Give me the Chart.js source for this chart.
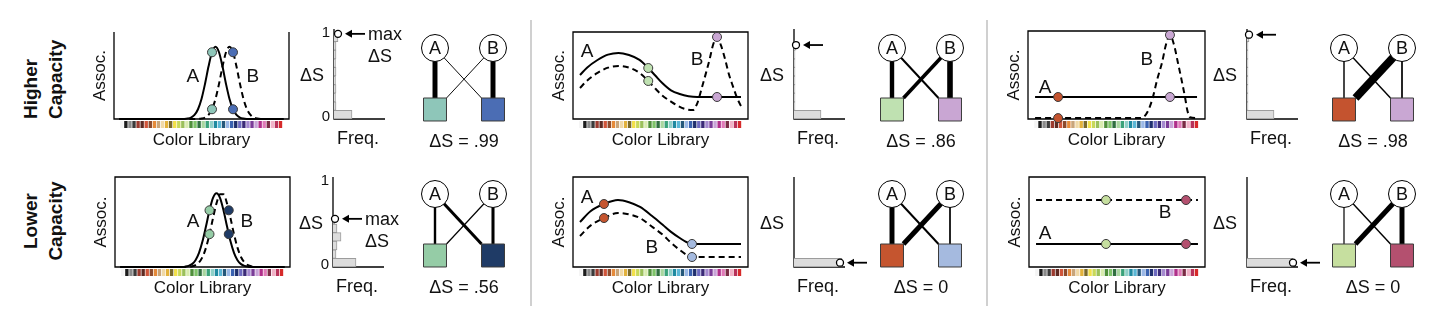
<!DOCTYPE html>
<html>
<head>
<meta charset="utf-8">
<title>Color library capacity</title>
<script src="https://cdn.jsdelivr.net/npm/chart.js@4.4.1/dist/chart.umd.min.js"></script>
<style>
  body { margin: 0; background: #fff; }
  #fig { position: relative; width: 1440px; height: 320px; overflow: hidden; background: #fff; }
  #fig canvas { position: absolute; }
  .row-label {
    position: absolute; width: 110px; height: 52px;
    font: bold 19px "Liberation Sans", Arial, sans-serif; line-height: 25px; color: #111;
    transform: rotate(-90deg);
  }
  .sep { position: absolute; top: 20px; width: 2px; height: 286px; background: #d0d0d0; }
</style>
</head>
<body>
<div id="fig">
  <div class="row-label" style="left:-11px; top:38px; text-align:left;">Higher<br>Capacity</div>
  <div class="row-label" style="left:-11px; top:195px; text-align:center;">Lower<br>Capacity</div>
  <div class="sep" style="left:530px;"></div>
  <div class="sep" style="left:986px;"></div>
</div>
<script>
const FONT = '"Liberation Sans", Arial, sans-serif';
const INK = '#111';

// colour library swatches shown under every x axis
const libraryColors = ['#f4f4f4', '#1c1c1c', '#8a8a8a', '#3b3b3b', '#9b3a2e', '#5e2a22', '#d0553a', '#8c4a2c',
  '#e58a3a', '#c9a57a', '#f0d9a8', '#e3b23c', '#7a6a2a', '#f2e04a', '#c8d85a', '#9bc05a', '#d9ecb0', '#4f8f3a',
  '#7fc46a', '#2f6f3f', '#a9d6a0', '#3aa27a', '#8fd0c8', '#1f8aa0', '#5bb7d6', '#24577a', '#9ab8e6', '#3a62b0',
  '#1f2f6e', '#6d6ac0', '#3b2a78', '#a58ad0', '#7a3c98', '#c9a3d8', '#b02f8a', '#e07ab8', '#7a2a44', '#f1b3c8',
  '#b8325a', '#d62a2a'];

// ΔS histogram bins
const deltaBins = ['0', '.1', '.2', '.3', '.4', '.5', '.6', '.7', '.8', '.9'];
const scores = ['.99', '.56', '.86', '0', '.98', '0'];

// panel 1: two neighbouring hues
const gaussX = [3, 36, 38, 40, 42, 44, 46, 48, 50, 52, 54, 56, 58, 60, 62, 64, 66, 68, 70, 72, 74, 76, 78, 80, 82, 84, 86, 88, 90, 97];
const p1HiA = [0, 0, 0, .001, .005, .016, .047, .112, .23, .403, .603, .767, .83, .767, .603, .403, .23, .112, .047, .016, .005, .001, 0, 0, 0, 0, 0, 0, 0, 0];
const p1HiB = [0, 0, 0, 0, 0, 0, 0, .001, .005, .016, .047, .112, .23, .403, .603, .767, .83, .767, .603, .403, .23, .112, .047, .016, .005, .001, 0, 0, 0, 0];
const p1HiDots = [56, 68];
const p1HiDotsOnA = [.767, .112];
const p1HiDotsOnB = [.112, .767];
const p1LoA = [0, 0, .001, .004, .012, .032, .076, .157, .285, .452, .63, .768, .82, .768, .63, .452, .285, .157, .076, .032, .012, .004, .001, 0, 0, 0, 0, 0, 0, 0];
const p1LoB = [0, 0, 0, .001, .002, .007, .02, .05, .111, .215, .365, .543, .707, .807, .807, .707, .543, .365, .215, .111, .05, .02, .007, .002, .001, 0, 0, 0, 0, 0];
const p1LoDots = [54, 65];
const p1LoDotsOnA = [.63, .365];
const p1LoDotsOnB = [.365, .63];

// panel 2: broad preference vs a peaked one
const p2HiAX = [4, 8, 14, 20, 26, 32, 38, 43, 47, 51, 56, 61, 66, 71, 96];
const p2HiA = [.506, .59, .678, .74, .76, .735, .68, .586, .5, .414, .33, .287, .262, .253, .253];
const p2HiBX = [4, 8, 14, 20, 26, 32, 38, 43, 47, 51, 56, 60, 64, 68.5, 71, 73.5, 76, 78, 80, 82.3, 84.5, 87, 89, 91.5, 94, 96.5];
const p2HiB = [.356, .44, .53, .59, .61, .59, .53, .437, .35, .27, .2, .15, .115, .103, .18, .35, .53, .68, .85, .943, .85, .68, .52, .37, .23, .13];
const p2HiDots = [43, 82.3];
const p2HiDotsOnA = [.586, .253];
const p2HiDotsOnB = [.437, .943];
const p2LoX = [4, 10, 17.7, 25.7, 32, 38.3, 45, 51.4, 56, 61, 65, 68, 96];
const p2LoA = [.5, .62, .7, .744, .72, .667, .57, .467, .39, .322, .275, .256, .256];
const p2LoB = [.344, .46, .544, .6, .585, .544, .45, .356, .27, .189, .135, .111, .111];
const p2LoDots = [17.7, 68];
const p2LoDotsOnA = [.7, .256];
const p2LoDotsOnB = [.544, .111];

// panel 3: flat preferences
const p3HiAX = [4, 95.5];
const p3HiA = [.25, .25];
const p3HiBX = [4, 62, 65, 68, 70.6, 73, 75.7, 78, 80.2, 82.4, 84.7, 86.7, 88.7, 90, 91.5, 95.5];
const p3HiB = [.01, .01, .02, .1, .25, .45, .64, .85, .955, .85, .64, .45, .25, .1, .02, .01];
const p3HiDots = [17, 80.2];
const p3HiDotsOnA = [.25, .25];
const p3HiDotsOnB = [.01, .955];
const p3LoX = [4, 96];
const p3LoA = [.256, .256];
const p3LoB = [.744, .744];
const p3LoDots = [43.75, 89.2];
const p3LoDotsOnA = [.256, .256];
const p3LoDotsOnB = [.744, .744];

// ΔS frequencies per bin, and the max ΔS marker [freq, ΔS]
const p1HiFreq = [18, 2, 1.5, 2, 1.5, 2, 1.5, 2, 2, 4];
const p1HiMax = [4, .99];
const p1LoFreq = [23, 3, 4, 8, 4, 2, 0, 0, 0, 0];
const p1LoMax = [2, .56];
const p2HiFreq = [27, 1, 1, 1, 1, 1, 1, 1, 2, 0];
const p2HiMax = [2, .86];
const p2LoFreq = [48, 0, 0, 0, 0, 0, 0, 0, 0, 0];
const p2LoMax = [46, .05];
const p3HiFreq = [27, 1, 1, 1, 1, 1, 1, 1, 1, 2];
const p3HiMax = [2, .98];
const p3LoFreq = [46, 0, 0, 0, 0, 0, 0, 0, 0, 0];
const p3LoMax = [46, .05];

// association weights A-a, A-b, B-a, B-b and the two assigned colours
const p1HiEdges = [.62, .12, .12, .62];
const p1LoEdges = [.3, .38, .15, .38];
const p2HiEdges = [.55, .25, .45, .7];
const p2LoEdges = [.62, .25, .62, .12];
const p3HiEdges = [.18, .18, 1, .12];
const p3LoEdges = [.15, .18, .62, .62];
const p1HiColors = ['#8ec6b9', '#4b6db4'];
const p1LoColors = ['#95cca6', '#1f3b66'];
const p2HiColors = ['#bfe1b1', '#c9a6d3'];
const p2LoColors = ['#c5552f', '#a5badf'];
const p3HiColors = ['#c4532f', '#c9a7d3'];
const p3LoColors = ['#c6df9f', '#b4506f'];

function addCanvas(left, top, w, h) {
  const c = document.createElement('canvas');
  c.width = w;
  c.height = h;
  c.style.left = left + 'px';
  c.style.top = top + 'px';
  document.getElementById('fig').appendChild(c);
  return c;
}

function pairs(xs, ys) {
  return xs.map((x, i) => ({ x: x, y: ys[i] }));
}

function label(ctx, str, x, y, size, align) {
  ctx.font = size + 'px ' + FONT;
  ctx.fillStyle = INK;
  ctx.textAlign = align || 'center';
  ctx.textBaseline = 'middle';
  ctx.fillText(str, x, y);
}

function baseOptions(pad) {
  return {
    responsive: false,
    animation: false,
    events: [],
    layout: { padding: pad, autoPadding: false },
    plugins: { legend: { display: false }, tooltip: { enabled: false } },
  };
}

function curveChart(box, a, b, dots, colors, names, openTop) {
  const pad = { left: 34, top: 8, right: 8, bottom: 34 };
  const canvas = addCanvas(box[0] - pad.left, box[1] - pad.top,
    box[2] + pad.left + pad.right, box[3] + pad.top + pad.bottom);
  const dotData = [
    { x: dots[0][0], y: dots[1][0] }, { x: dots[0][0], y: dots[2][0] },
    { x: dots[0][1], y: dots[1][1] }, { x: dots[0][1], y: dots[2][1] },
  ];
  const opts = baseOptions(pad);
  opts.scales = {
    x: { type: 'linear', min: 0, max: 100, display: false },
    y: { type: 'linear', min: 0, max: 1, display: false },
  };
  new Chart(canvas, {
    type: 'line',
    data: {
      datasets: [
        { data: dotData, showLine: false, pointRadius: 4.5, pointBorderWidth: 1, pointBorderColor: '#3a3a3a',
          pointBackgroundColor: [colors[0], colors[0], colors[1], colors[1]], clip: false, order: 0 },
        { data: pairs(a[0], a[1]), borderColor: '#000', borderWidth: 2, pointRadius: 0,
          cubicInterpolationMode: 'monotone', clip: false, order: 1 },
        { data: pairs(b[0], b[1]), borderColor: '#000', borderWidth: 2, borderDash: [6, 4], pointRadius: 0,
          cubicInterpolationMode: 'monotone', clip: false, order: 2 },
      ],
    },
    options: opts,
    plugins: [{
      id: 'frame',
      beforeDatasetsDraw(chart) {
        const { ctx, chartArea: r, scales } = chart;
        ctx.save();
        // colour library strip
        const step = 93 / libraryColors.length;
        libraryColors.forEach((c, i) => {
          const x0 = scales.x.getPixelForValue(3.5 + i * step);
          const x1 = scales.x.getPixelForValue(3.5 + (i + 1) * step);
          ctx.fillStyle = c;
          ctx.fillRect(x0, r.bottom + 2, x1 - x0 - 0.7, 7);
        });
        ctx.strokeStyle = '#000';
        ctx.lineWidth = 1.3;
        ctx.beginPath();
        if (openTop) {
          ctx.moveTo(r.left, r.top);
          ctx.lineTo(r.left, r.bottom);
          ctx.lineTo(r.right, r.bottom);
          ctx.lineTo(r.right, r.top);
        } else {
          ctx.rect(r.left, r.top, r.right - r.left, r.bottom - r.top);
        }
        ctx.stroke();
        ctx.restore();
      },
      afterDatasetsDraw(chart) {
        const { ctx, chartArea: r, scales } = chart;
        ctx.save();
        label(ctx, 'Color Library', (r.left + r.right) / 2, r.bottom + 21, 17);
        label(ctx, 'A', scales.x.getPixelForValue(names.A[0]), scales.y.getPixelForValue(names.A[1]), 19);
        label(ctx, 'B', scales.x.getPixelForValue(names.B[0]), scales.y.getPixelForValue(names.B[1]), 19);
        ctx.translate(r.left - 14, (r.top + r.bottom) / 2);
        ctx.rotate(-Math.PI / 2);
        label(ctx, 'Assoc.', 0, 0, 17);
        ctx.restore();
      },
    }],
  });
}

function histChart(axisX, y1, y0, freq, maxMark, withTicks, withMaxText) {
  const pad = { left: 45, top: 12, right: 75, bottom: 32 };
  const canvas = addCanvas(axisX - pad.left, y1 - pad.top, 50 + pad.left + pad.right, (y0 - y1) + pad.top + pad.bottom);
  const opts = baseOptions(pad);
  opts.scales = {
    x: { type: 'linear', axis: 'x', min: 0, max: 50, offset: false, display: false },
    y: { type: 'category', axis: 'y', labels: deltaBins, reverse: true, offset: true, display: false },
    yS: { type: 'linear', axis: 'y', min: 0, max: 1, offset: false, display: false },
  };
  new Chart(canvas, {
    type: 'bar',
    data: {
      labels: deltaBins,
      datasets: [
        { type: 'line', data: [{ x: maxMark[0], y: maxMark[1] }], xAxisID: 'x', yAxisID: 'yS', showLine: false,
          pointRadius: 3.5, pointBackgroundColor: '#fff', pointBorderColor: '#000', pointBorderWidth: 1.3,
          clip: false, order: 0 },
        { type: 'bar', data: freq, indexAxis: 'y', xAxisID: 'x', yAxisID: 'y', backgroundColor: '#dcdcdc',
          borderColor: '#9c9c9c', borderWidth: 1, barPercentage: 1, categoryPercentage: 1, order: 1 },
      ],
    },
    options: opts,
    plugins: [{
      id: 'histAxes',
      beforeDatasetsDraw(chart) {
        const { ctx, chartArea: r } = chart;
        ctx.save();
        ctx.strokeStyle = '#000';
        ctx.lineWidth = 1.3;
        ctx.beginPath();
        ctx.moveTo(r.left, r.top - 4);
        ctx.lineTo(r.left, r.bottom);
        ctx.lineTo(r.right + 1, r.bottom);
        ctx.stroke();
        ctx.restore();
      },
      afterDatasetsDraw(chart) {
        const { ctx, chartArea: r, scales } = chart;
        const px = scales.x.getPixelForValue(maxMark[0]);
        const py = scales.yS.getPixelForValue(maxMark[1]);
        ctx.save();
        label(ctx, 'ΔS', r.left - 22, (r.top + r.bottom) / 2, 18);
        label(ctx, 'Freq.', r.left + 24, r.bottom + 20, 18);
        if (withTicks) {
          label(ctx, '1', r.left - 4, r.top, 15, 'right');
          label(ctx, '0', r.left - 4, r.bottom - 2, 15, 'right');
        }
        // arrow pointing at the max ΔS marker
        ctx.strokeStyle = '#000';
        ctx.fillStyle = '#000';
        ctx.lineWidth = 1.8;
        ctx.beginPath();
        ctx.moveTo(px + 27, py);
        ctx.lineTo(px + 12, py);
        ctx.stroke();
        ctx.beginPath();
        ctx.moveTo(px + 7, py);
        ctx.lineTo(px + 14, py - 4);
        ctx.lineTo(px + 14, py + 4);
        ctx.closePath();
        ctx.fill();
        if (withMaxText) {
          label(ctx, 'max', px + 30, py + 1, 18, 'left');
          label(ctx, 'ΔS', px + 30, py + 23, 18, 'left');
        }
        ctx.restore();
      },
    }],
  });
}

function nodeChart(ax, ay, weights, colors, score) {
  const canvas = addCanvas(ax - 21, ay - 20, 100, 125);
  const ends = [
    [[21, 80], [21, 30]],
    [[21, 80], [67.5, 30]],
    [[79, 80], [32.5, 30]],
    [[79, 80], [79, 30]],
  ];
  const edgeSets = ends.map((e, i) => ({
    data: [{ x: e[0][0], y: e[0][1] }, { x: e[1][0], y: e[1][1] }],
    borderColor: '#000', borderWidth: weights[i] * 8, pointRadius: 0, clip: false, order: 2,
  }));
  const opts = baseOptions(0);
  opts.scales = {
    x: { type: 'linear', min: 0, max: 100, display: false },
    y: { type: 'linear', min: -25, max: 100, display: false },
  };
  new Chart(canvas, {
    type: 'line',
    data: {
      datasets: [
        { data: [{ x: 21, y: 80 }, { x: 79, y: 80 }], showLine: false, pointRadius: 13.5,
          pointBackgroundColor: '#fff', pointBorderColor: '#000', pointBorderWidth: 1, clip: false, order: 0 },
        { data: [{ x: 21, y: 18.5 }, { x: 79, y: 18.5 }], showLine: false, pointStyle: 'rect', pointRadius: 16.26,
          pointBackgroundColor: colors, pointBorderColor: '#3c3c3c', pointBorderWidth: 1, clip: false, order: 0 },
      ].concat(edgeSets),
    },
    options: opts,
    plugins: [{
      id: 'nodeText',
      afterDatasetsDraw(chart) {
        const { ctx, scales } = chart;
        ctx.save();
        label(ctx, 'A', scales.x.getPixelForValue(21), scales.y.getPixelForValue(80) + 1, 18);
        label(ctx, 'B', scales.x.getPixelForValue(79), scales.y.getPixelForValue(80) + 1, 18);
        label(ctx, 'ΔS = ' + score, scales.x.getPixelForValue(50), scales.y.getPixelForValue(-14), 18);
        ctx.restore();
      },
    }],
  });
}

curveChart([114, 32, 175, 87], [gaussX, p1HiA], [gaussX, p1HiB], [p1HiDots, p1HiDotsOnA, p1HiDotsOnB],
  p1HiColors, { A: [45, .48], B: [79.4, .48] }, true);
curveChart([115, 177, 175, 90], [gaussX, p1LoA], [gaussX, p1LoB], [p1LoDots, p1LoDotsOnA, p1LoDotsOnB],
  p1LoColors, { A: [44.6, .5], B: [75.4, .5] });
curveChart([573, 32, 175, 87], [p2HiAX, p2HiA], [p2HiBX, p2HiB], [p2HiDots, p2HiDotsOnA, p2HiDotsOnB],
  p2HiColors, { A: [8, .77], B: [70.9, .68] });
curveChart([573, 177, 175, 90], [p2LoX, p2LoA], [p2LoX, p2LoB], [p2LoDots, p2LoDotsOnA, p2LoDotsOnB],
  p2LoColors, { A: [8, .767], B: [45, .21] });
curveChart([1028, 31, 177, 88], [p3HiAX, p3HiA], [p3HiBX, p3HiB], [p3HiDots, p3HiDotsOnA, p3HiDotsOnB],
  p3HiColors, { A: [9.6, .35], B: [67.2, .67] });
curveChart([1029, 177, 176, 90], [p3LoX, p3LoA], [p3LoX, p3LoB], [p3LoDots, p3LoDotsOnA, p3LoDotsOnB],
  p3LoColors, { A: [9.1, .367], B: [77.3, .6] });

histChart(334, 33, 119, p1HiFreq, p1HiMax, true, true);
histChart(333, 181, 267, p1LoFreq, p1LoMax, true, true);
histChart(794, 33, 119, p2HiFreq, p2HiMax, false, false);
histChart(794, 181, 267, p2LoFreq, p2LoMax, false, false);
histChart(1247, 33, 119, p3HiFreq, p3HiMax, false, false);
histChart(1247, 181, 267, p3LoFreq, p3LoMax, false, false);

nodeChart(435, 48, p1HiEdges, p1HiColors, scores[0]);
nodeChart(435, 194, p1LoEdges, p1LoColors, scores[1]);
nodeChart(892, 48, p2HiEdges, p2HiColors, scores[2]);
nodeChart(892, 194, p2LoEdges, p2LoColors, scores[3]);
nodeChart(1344, 48, p3HiEdges, p3HiColors, scores[4]);
nodeChart(1344, 194, p3LoEdges, p3LoColors, scores[5]);
</script>
</body>
</html>
